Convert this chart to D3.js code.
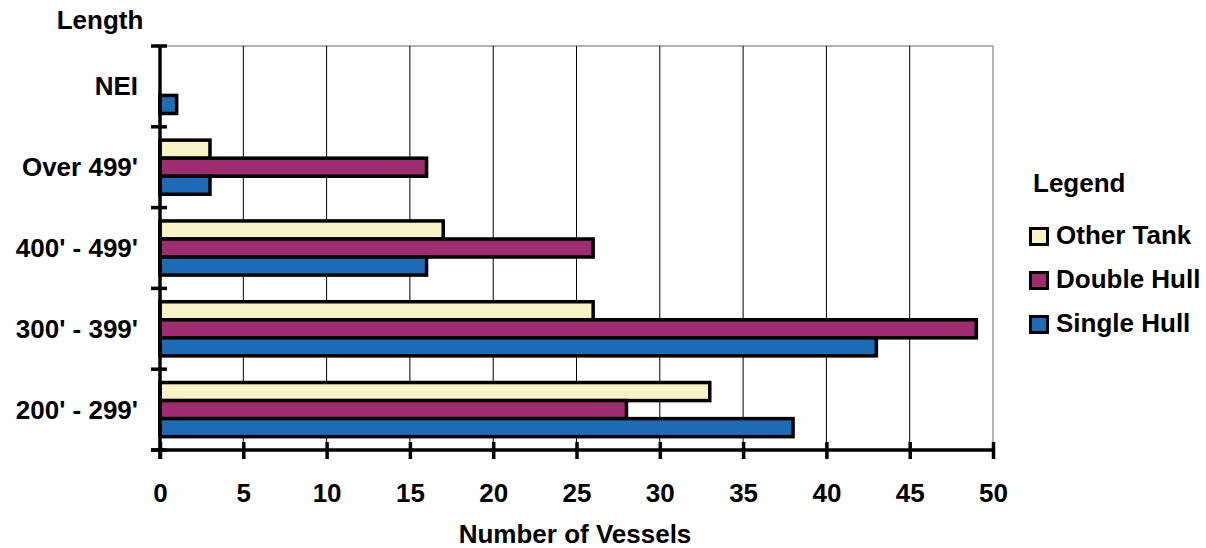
<!DOCTYPE html>
<html>
<head>
<meta charset="utf-8">
<script src="https://cdn.jsdelivr.net/npm/d3@7"></script>
<style>
  html, body { margin: 0; padding: 0; background: #fff; }
  svg text { font-family: "Liberation Sans", Arial, sans-serif; font-weight: bold; fill: #000; }
</style>
</head>
<body>
<svg id="chart" width="1206" height="548"></svg>
<script>
const categories = ["NEI", "Over 499'", "400' - 499'", "300' - 399'", "200' - 299'"];
const seriesNames = ["Other Tank", "Double Hull", "Single Hull"];
const otherTank  = [0, 3, 17, 26, 33];
const doubleHull = [0, 16, 26, 49, 28];
const singleHull = [1, 3, 16, 43, 38];
const xTicks = [0, 5, 10, 15, 20, 25, 30, 35, 40, 45, 50];
const colors = ["#F8F3C6", "#9C2D6F", "#1F6BB4"];

const seriesValues = [otherTank, doubleHull, singleHull];
const data = categories.map((c, i) => ({
  cat: c,
  values: seriesNames.map((s, j) => ({ series: s, value: seriesValues[j][i], color: colors[j] }))
}));

const svg = d3.select("#chart");
const pL = 160, pR = 993, pT = 46, pB = 450;
const FS = "26px";

const x = d3.scaleLinear().domain([0, 50]).range([pL, pR]);
const y0 = d3.scaleBand().domain(categories).range([pT, pB]).padding(0);
const bw = y0.bandwidth();
const y1 = d3.scaleBand().domain(seriesNames).range([bw * 0.165, bw * 0.835]).padding(0);

// plot border (gray top and right)
svg.append("line").attr("x1", pL).attr("x2", pR).attr("y1", pT).attr("y2", pT)
  .attr("stroke", "#999").attr("stroke-width", 1.5);
svg.append("line").attr("x1", pR).attr("x2", pR).attr("y1", pT).attr("y2", pB)
  .attr("stroke", "#999").attr("stroke-width", 1.5);

// gridlines
svg.append("g").selectAll("line").data(xTicks.filter(d => d > 0 && d < 50)).join("line")
  .attr("x1", d => x(d)).attr("x2", d => x(d)).attr("y1", pT).attr("y2", pB)
  .attr("stroke", "#000").attr("stroke-width", 1);

// bars
const groups = svg.append("g").selectAll("g").data(data).join("g")
  .attr("transform", d => `translate(0,${y0(d.cat)})`);
groups.selectAll("rect").data(d => d.values.filter(v => v.value > 0)).join("rect")
  .attr("x", x(0))
  .attr("y", d => y1(d.series))
  .attr("width", d => x(d.value) - x(0))
  .attr("height", y1.bandwidth())
  .attr("fill", d => d.color)
  .attr("stroke", "#000")
  .attr("stroke-width", 3.5);

// x axis
const xAxis = d3.axisBottom(x).tickValues(xTicks).tickSize(0).tickPadding(0);
const gx = svg.append("g").attr("transform", `translate(0,${pB})`).call(xAxis);
gx.select(".domain").remove();
gx.selectAll(".tick text").remove();
svg.append("line").attr("x1", pL - 9).attr("x2", pR).attr("y1", pB).attr("y2", pB)
  .attr("stroke", "#000").attr("stroke-width", 3.5);
gx.selectAll(".tick").append("line").attr("y1", -8).attr("y2", 9)
  .attr("stroke", "#000").attr("stroke-width", 3.5);
gx.selectAll(".tick").append("text")
  .attr("y", 52).attr("text-anchor", "middle")
  .style("font-size", FS)
  .text(d => d);

// y axis
svg.append("line").attr("x1", pL).attr("x2", pL).attr("y1", pT).attr("y2", pB + 9)
  .attr("stroke", "#000").attr("stroke-width", 3.5);
const boundaries = categories.map(c => y0(c)).concat([pB]);
svg.append("g").selectAll("line").data(boundaries).join("line")
  .attr("x1", pL - 9).attr("x2", pL + 7).attr("y1", d => d).attr("y2", d => d)
  .attr("stroke", "#000").attr("stroke-width", 3.5);
svg.append("g").selectAll("text").data(categories).join("text")
  .attr("x", 138).attr("y", d => y0(d) + bw / 2 + 9)
  .attr("text-anchor", "end")
  .style("font-size", FS)
  .text(d => d);

// axis titles
svg.append("text").attr("x", 100).attr("y", 29).attr("text-anchor", "middle")
  .style("font-size", FS).text("Length");
svg.append("text").attr("x", 575).attr("y", 543).attr("text-anchor", "middle")
  .style("font-size", FS).text("Number of Vessels");

// legend
const lg = svg.append("g").attr("transform", "translate(1029,0)");
lg.append("text").attr("x", 4).attr("y", 192).style("font-size", FS).text("Legend");
const items = lg.selectAll("g.item").data(seriesNames).join("g").attr("class", "item")
  .attr("transform", (d, i) => `translate(0,${227 + i * 44})`);
items.append("rect").attr("x", 1.5).attr("y", 1.5).attr("width", 17).attr("height", 16)
  .attr("fill", (d, i) => colors[i]).attr("stroke", "#000").attr("stroke-width", 3);
items.append("text").attr("x", 27).attr("y", 16.5).style("font-size", FS).text(d => d);
</script>
</body>
</html>
